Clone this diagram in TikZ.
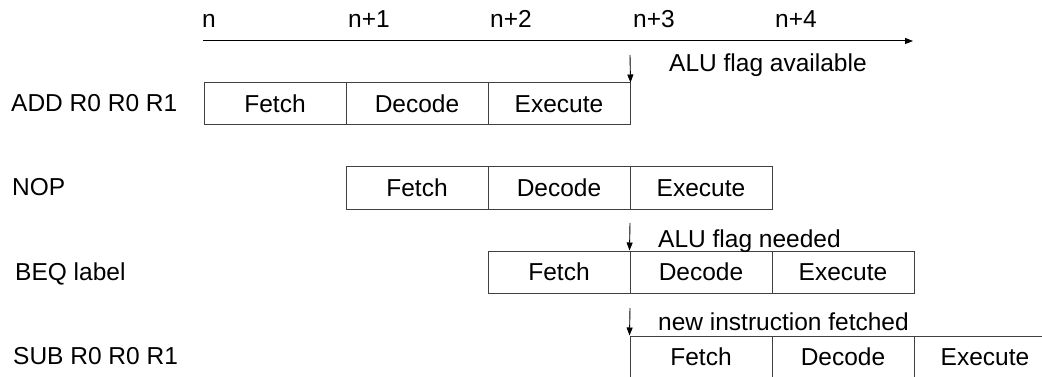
\documentclass[tikz,border=0pt]{standalone}
\usepackage{fontspec}
\setmainfont{Liberation Sans}
\usetikzlibrary{arrows.meta}
\tikzset{
  txt/.style={inner sep=0pt, font=\fontsize{24.5}{29}\selectfont},
  cell/.style={txt, draw=black!75, line width=1pt, minimum width=142pt, minimum height=42pt},
  lbl/.style={txt, anchor=base west},
  marker/.style={line width=0.9pt, -{Triangle[length=8pt,width=6pt]}},
}
\begin{document}
\begin{tikzpicture}[x=1pt, y=-1pt]
  \useasboundingbox (0,0) rectangle (1042,377);
  \clip (0,0) rectangle (1042,377);

  % time axis
  \node[lbl] (tn)  at (202,28) {n};
  \node[lbl] (tn1) at (348,28) {n+1};
  \node[lbl] (tn2) at (490,28) {n+2};
  \node[lbl] (tn3) at (633,28) {n+3};
  \node[lbl] (tn4) at (775,28) {n+4};
  \coordinate (axs) at (203,41);
  \coordinate (axe) at (913,41);
  \draw[marker, line width=1pt] (axs) -- (axe);

  % ADD R0 R0 R1
  \node[lbl] (iadd) at (11,112) {ADD R0 R0 R1};
  \node[cell] (addF) at (275,104) {Fetch};
  \node[cell] (addD) at (417,104) {Decode};
  \node[cell] (addE) at (559,104) {Execute};

  % NOP
  \node[lbl] (inop) at (12,196) {NOP};
  \node[cell] (nopF) at (417,188) {Fetch};
  \node[cell] (nopD) at (559,188) {Decode};
  \node[cell] (nopE) at (701,188) {Execute};

  % BEQ label
  \node[lbl] (ibeq) at (15,280) {BEQ label};
  \node[cell] (beqF) at (559,272) {Fetch};
  \node[cell] (beqD) at (701,272) {Decode};
  \node[cell] (beqE) at (843,272) {Execute};

  % SUB R0 R0 R1
  \node[lbl] (isub) at (13,364) {SUB R0 R0 R1};
  \node[cell] (subF) at (701,357) {Fetch};
  \node[cell] (subD) at (843,357) {Decode};
  \node[cell] (subE) at (985,357) {Execute};

  % event markers
  \coordinate (m1) at (630,55);
  \draw[marker] (m1) -- (addE.north east);
  \node[lbl] (n1) at (669,72) {ALU flag available};

  \coordinate (m2) at (630,223);
  \draw[marker] (m2) -- (beqD.north west);
  \node[lbl] (n2) at (658,247) {ALU flag needed};

  \coordinate (m3) at (630,308);
  \draw[marker] (m3) -- (subF.north west);
  \node[lbl] (n3) at (658,330) {new instruction fetched};
\end{tikzpicture}
\end{document}
